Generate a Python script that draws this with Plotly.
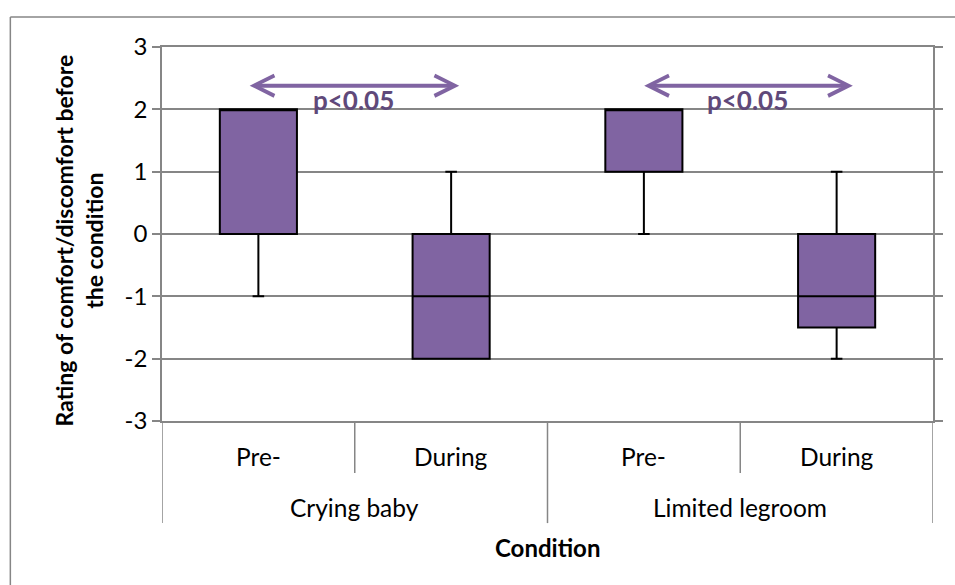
import plotly.graph_objects as go

# Comfort ratings summary per condition (box statistics)
groups = ["Crying baby", "Crying baby", "Limited legroom", "Limited legroom"]
phases = ["Pre-", "During", "Pre-", "During"]
q1 = [0, -2, 1, -1.5]
median = [2, -1, 2, -1]
q3 = [2, 0, 2, 0]
lower_whisker = [-1, -2, 0, -2]
upper_whisker = [2, 1, 2, 1]
y_ticks = [-3, -2, -1, 0, 1, 2, 3]
sig_label = "p<0.05"

FONT = "Lato, Carlito, Calibri, sans-serif"
PURPLE = "#8064A2"
DARK_PURPLE = "#5F497A"
GRAY = "#868686"

positions = list(range(len(phases)))

fig = go.Figure()
fig.add_trace(go.Box(
    x=positions,
    q1=q1, median=median, q3=q3,
    lowerfence=lower_whisker, upperfence=upper_whisker,
    fillcolor=PURPLE,
    line=dict(color="black", width=2),
    width=0.4,
    whiskerwidth=0.15,
    boxpoints=False,
    showlegend=False,
    hoverinfo="skip",
))

# plot-area geometry in paper units (below the x axis)
row1_bottom = -0.139
row2_bottom = -0.273

shapes = []
# category separators: short ticks between phases, long ones between groups
for i in range(len(phases) + 1):
    xb = i - 0.5
    if i == 0 or i == len(phases) or groups[i - 1] != groups[i]:
        y_end = row2_bottom
    else:
        y_end = row1_bottom
    shapes.append(dict(type="line", xref="x", yref="paper",
                       x0=xb, x1=xb, y0=0, y1=y_end,
                       line=dict(color=GRAY, width=1.5)))

# chart outer border (left and top edges)
shapes.append(dict(type="line", xref="paper", yref="paper",
                   x0=-0.1967, x1=-0.1967, y0=1.0802, y1=-0.5,
                   line=dict(color=GRAY, width=1.5)))
shapes.append(dict(type="line", xref="paper", yref="paper",
                   x0=-0.1967, x1=1.05, y0=1.0802, y1=1.0802,
                   line=dict(color=GRAY, width=1.5)))

annotations = []
# phase labels
for i, p in enumerate(phases):
    annotations.append(dict(x=i, y=-0.096, xref="x", yref="paper",
                            text=p, showarrow=False,
                            font=dict(family=FONT, size=24.5, color="black"),
                            xanchor="center", yanchor="middle"))
# group labels
seen = []
for g in groups:
    if g not in seen:
        seen.append(g)
for g in seen:
    idx = [i for i, gg in enumerate(groups) if gg == g]
    center = sum(idx) / len(idx)
    annotations.append(dict(x=center, y=-0.232, xref="x", yref="paper",
                            text=g, showarrow=False,
                            font=dict(family=FONT, size=24.5, color="black"),
                            xanchor="center", yanchor="middle"))

# axis titles
annotations.append(dict(x=0.5, y=-0.337, xref="paper", yref="paper",
                        text="<b>Condition</b>", showarrow=False,
                        font=dict(family=FONT, size=24, color="black"),
                        xanchor="center", yanchor="middle"))
annotations.append(dict(x=-0.107, y=0.481, xref="paper", yref="paper",
                        text="<b>Rating of comfort/discomfort before<br>the condition</b>",
                        showarrow=False, textangle=-90, align="center",
                        font=dict(family=FONT, size=23, color="black"),
                        xanchor="center", yanchor="middle"))

# significance arrows between Pre- and During within each group
arrow_spans = [(-0.053, 1.042), (1.994, 3.084)]
arrow_y = 2.38
for (xa, xb) in arrow_spans:
    annotations.append(dict(x=xb, y=arrow_y, ax=xa, ay=arrow_y,
                            xref="x", yref="y", axref="x", ayref="y",
                            text="", showarrow=True,
                            arrowhead=5, startarrowhead=5,
                            arrowside="end+start",
                            arrowsize=1.0, startarrowsize=1.0,
                            arrowwidth=4, arrowcolor=PURPLE,
                            standoff=0, startstandoff=0))
    annotations.append(dict(x=(xa + xb) / 2, y=2.15, xref="x", yref="y",
                            text="<b>%s</b>" % sig_label, showarrow=False,
                            font=dict(family=FONT, size=26, color=DARK_PURPLE),
                            xanchor="center", yanchor="middle"))

fig.update_layout(
    width=955, height=585,
    margin=dict(l=162, r=15, t=47, b=164),
    paper_bgcolor="white", plot_bgcolor="white",
    font=dict(family=FONT, size=24, color="black"),
    shapes=shapes,
    annotations=annotations,
    xaxis=dict(range=[-0.5, len(phases) - 0.5], showticklabels=False,
               showgrid=False, zeroline=False, ticks="",
               showline=True, mirror=True, linecolor=GRAY, linewidth=1.5,
               fixedrange=True),
    yaxis=dict(range=[-3, 3], tickvals=y_ticks,
               ticktext=[str(v) for v in y_ticks],
               showgrid=True, gridcolor=GRAY, gridwidth=1.5,
               zeroline=False, showline=True, linecolor=GRAY, linewidth=1.5,
               mirror="ticks", ticks="outside", ticklen=8,
               tickcolor=GRAY, tickwidth=1.5,
               tickfont=dict(family=FONT, size=24, color="black"),
               fixedrange=True),
)

fig.write_html("out.html")
